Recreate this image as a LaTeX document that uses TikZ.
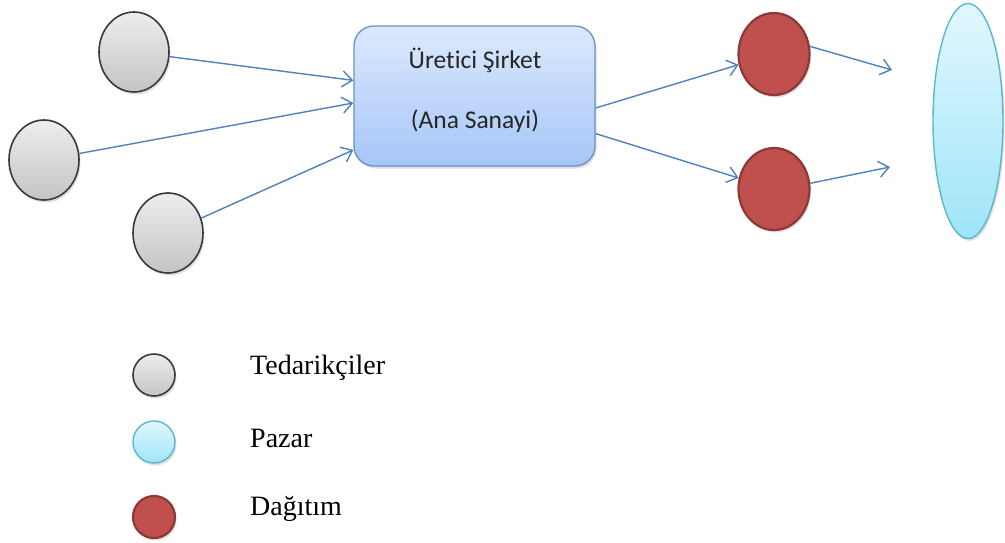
\documentclass[tikz,border=0pt]{standalone}
\usepackage{fontspec}
\setmainfont{Liberation Serif}
\newfontfamily\calfont[Ligatures={NoCommon}]{Carlito}
\usetikzlibrary{shapes.geometric,arrows.meta,shadows}
\definecolor{arrblue}{HTML}{4F81BD}
\definecolor{grayedge}{HTML}{3A3A3A}
\definecolor{graytop}{HTML}{EDEDED}
\definecolor{graybot}{HTML}{C4C4C4}
\definecolor{redfill}{HTML}{C0504D}
\definecolor{rededge}{HTML}{8C3836}
\definecolor{boxtop}{HTML}{DCE9FD}
\definecolor{boxbot}{HTML}{A6C6F7}
\definecolor{boxedge}{HTML}{6A90C6}
\definecolor{skytop}{HTML}{E2F7FE}
\definecolor{skybot}{HTML}{9EE5F8}
\definecolor{skyedge}{HTML}{5DB6CF}
\tikzset{
  shad/.style={drop shadow={opacity=0.25,shadow xshift=1.5pt,shadow yshift=-2.5pt}},
  supplier/.style={ellipse,inner sep=0pt,minimum width=70pt,minimum height=80pt,
    draw=grayedge,line width=1.6pt,top color=graytop,bottom color=graybot,shad},
  distrib/.style={ellipse,inner sep=0pt,minimum width=71pt,minimum height=82pt,
    draw=rededge,line width=2.2pt,fill=redfill,shad},
  market/.style={ellipse,inner sep=0pt,minimum width=70pt,minimum height=235pt,
    draw=skyedge,line width=1.4pt,top color=skytop,bottom color=skybot,shad},
  mainbox/.style={rectangle,rounded corners=20pt,minimum width=241pt,minimum height=140pt,
    draw=boxedge,line width=1.3pt,top color=boxtop,bottom color=boxbot,shad},
  boxtext/.style={align=center,inner sep=0pt,font=\calfont\fontsize{25.5}{30}\selectfont,text=black!85},
  legsup/.style={circle,inner sep=0pt,minimum size=42pt,draw=grayedge,line width=1.6pt,
    top color=graytop,bottom color=graybot,shad},
  legmar/.style={circle,inner sep=0pt,minimum size=42pt,draw=skyedge,line width=1.4pt,
    top color=skytop,bottom color=skybot,shad},
  legdis/.style={circle,inner sep=0pt,minimum size=42pt,draw=rededge,line width=2.2pt,
    fill=redfill,shad},
  legtext/.style={anchor=west,inner sep=0pt,font=\fontsize{28}{33}\selectfont},
  arr/.style={draw=arrblue,line width=1.4pt,-{Straight Barb[length=10pt,width=16pt,line width=1.4pt]}}
}
\begin{document}
\begin{tikzpicture}[x=1pt,y=-1pt]
\useasboundingbox (0,0) rectangle (1005,542);
\node[supplier] (g1) at (134,52) {};
\node[supplier] (g2) at (44,160) {};
\node[supplier] (g3) at (168,233) {};
\node[mainbox] (box) at (474.5,96) {};
\node[boxtext] (bt1) at (475,60) {Üretici Şirket};
\node[boxtext] (bt2) at (475,121) {(Ana Sanayi)};
\node[distrib] (r1) at (774,54) {};
\node[distrib] (r2) at (774,189) {};
\node[market] (m) at (968,121) {};
\coordinate (e1) at (892,70);
\coordinate (e2) at (890,167);
\draw[arr] (g1) -- (box);
\draw[arr] (g2) -- ([yshift=-7pt]box.west);
\draw[arr] (g3) -- (box);
\draw[arr] ([yshift=-12pt]box.east) -- (r1);
\draw[arr] (box) -- (r2);
\draw[arr] (r1.12) -- (e1);
\draw[arr] (r2.9) -- (e2);
% legend
\node[legsup] (l1) at (154,375) {};
\node[legmar] (l2) at (154,442) {};
\node[legdis] (l3) at (154,517) {};
\node[legtext] (t1) at (250,368) {Tedarikçiler};
\node[legtext] (t2) at (250,438) {Pazar};
\node[legtext] (t3) at (250,509) {Dağıtım};
\end{tikzpicture}
\end{document}
